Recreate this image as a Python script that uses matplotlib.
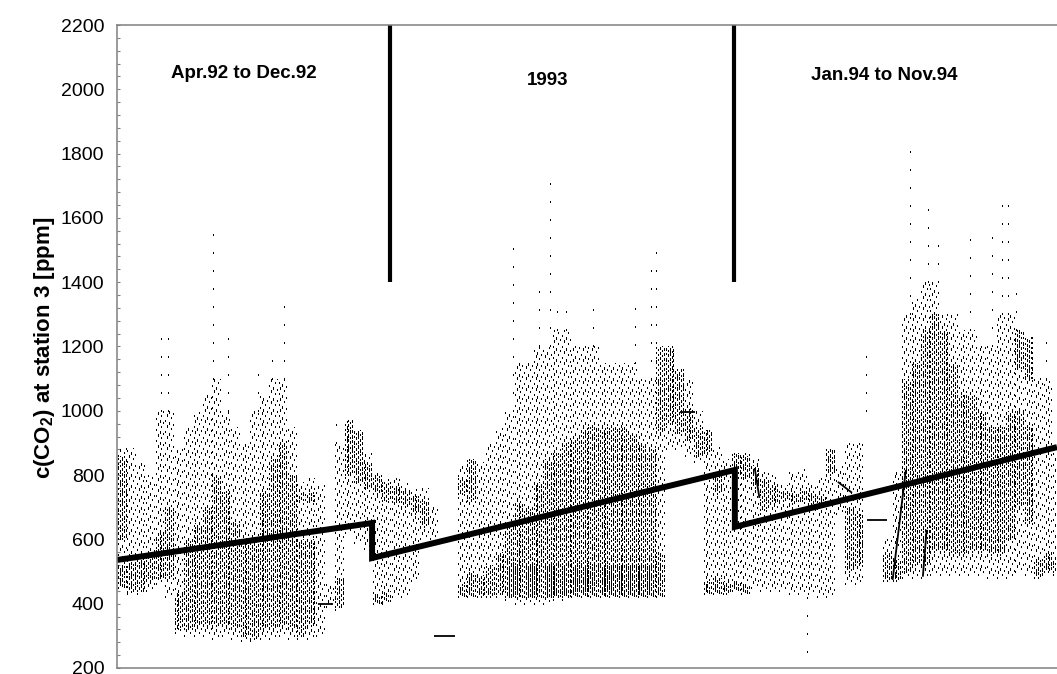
import numpy as np
import matplotlib
matplotlib.use("Agg")
import matplotlib.pyplot as plt
from matplotlib.collections import LineCollection
from matplotlib.ticker import MultipleLocator

plt.rcParams["font.family"] = ["Liberation Sans", "DejaVu Sans"]
plt.rcParams["mathtext.fontset"] = "custom"
plt.rcParams["mathtext.rm"] = "Liberation Sans"
plt.rcParams["mathtext.bf"] = "Liberation Sans:bold"
plt.rcParams["lines.scale_dashes"] = False

nan = np.nan

# ---- half-hourly CO2 readings, summarised per 10-day bin (day 0 = start of record) ----
BIN_DAYS = 10
lo_ppm = [450, 430, 430, 440, 460, 420, 310, 300, 300, 300,
          290, 300, 290, 285, 285, 290, 290, 300, 290, 290,
          290, 300, 390, 380, 620, 590, 570, 400, 400, 420,
          420, 470, 600, 600, nan, nan, 420, 420, 420, 420,
          420, 410, 400, 400, 400, 400, 410, 410, 420, 420,
          420, 420, 420, 420, 420, 420, 420, 420, 880, 880,
          860, 840, 430, 430, 430, 440, 430, 450, 440, 440,
          440, 430, 430, 430, 420, 420, 680, 460, 460, nan,
          nan, 470, 470, 480, 480, 480, 490, 490, 490, 490,
          490, 490, 480, 480, 480, 500, 490, 480, 500, 490]
hi_ppm = [885, 885, 840, 800, 1000, 1000, 880, 950, 1000, 1050,
          1100, 1000, 950, 900, 1000, 1050, 1100, 1100, 950, 780,
          790, 770, 460, 900, 960, 940, 870, 810, 790, 790,
          780, 760, 760, 700, nan, nan, 830, 850, 840, 900,
          950, 1000, 1150, 1150, 1200, 1200, 1250, 1250, 1200, 1200,
          1200, 1150, 1150, 1150, 1150, 1100, 1100, 1100, 1200, 1130,
          1100, 1000, 940, 890, 850, 870, 870, 850, 810, 800,
          770, 810, 820, 780, 790, 880, 830, 900, 900, nan,
          nan, 600, 810, 1300, 1350, 1400, 1400, 1300, 1300, 1250,
          1250, 1200, 1200, 1300, 1300, 1250, 1200, 1100, 1100, 900]
core_lo = [600, 435, 440, 470, 480, 480, 320, 320, 330, 330,
           330, 330, 320, 300, 290, 320, 320, 330, 320, 300,
           330, nan, nan, 390, 800, 780, 760, 740, 720, 715,
           700, 680, 640, nan, nan, nan, 740, 720, 420, 420,
           430, 420, 430, 420, 430, 420, 430, 430, 440, 440,
           450, 440, 430, 430, 430, 430, 430, 930, 960, 930,
           910, 860, 870, 740, 430, 800, 790, 760, 690, 710,
           720, 710, 720, 710, 700, 800, nan, 500, 520, nan,
           nan, 470, 470, 500, 520, 520, 560, 560, 550, 550,
           560, 560, 550, 550, 600, 700, 650, 480, 500, 500]
core_hi = [860, 530, 540, 560, 620, 700, 430, 600, 650, 700,
           800, 750, 650, 600, 600, 750, 850, 900, 800, 600,
           600, nan, nan, 480, 970, 940, 840, 800, 780, 770,
           750, 735, 720, nan, nan, nan, 790, 850, 490, 520,
           560, 650, 720, 700, 780, 850, 870, 900, 920, 950,
           950, 950, 950, 950, 930, 900, 880, 1200, 1200, 1130,
           1010, 950, 940, 800, 470, 870, 860, 830, 790, 770,
           750, 750, 750, 750, 740, 880, nan, 700, 680, nan,
           nan, 560, 540, 1100, 1150, 1250, 1300, 1250, 1150, 1050,
           1050, 1000, 950, 950, 1000, 1000, 950, 540, 560, 540]
band_lo = [450, nan, nan, nan, nan, nan, nan, nan, nan, nan,
           nan, nan, nan, nan, nan, nan, nan, nan, nan, 720,
           715, nan, nan, nan, nan, nan, nan, 400, 405, nan,
           nan, nan, nan, nan, nan, nan, 420, 420, nan, nan,
           nan, 420, 420, 420, 420, 420, 420, 420, 420, 420,
           420, 420, 420, 420, 420, 420, 420, 420, nan, nan,
           nan, nan, 430, 430, nan, 440, 430, nan, nan, nan,
           nan, nan, nan, nan, nan, nan, nan, nan, nan, nan,
           nan, nan, nan, nan, nan, nan, nan, nan, nan, nan,
           nan, nan, nan, nan, nan, 1130, 1100, nan, nan, nan]
band_hi = [520, nan, nan, nan, nan, nan, nan, nan, nan, nan,
           nan, nan, nan, nan, nan, nan, nan, nan, nan, 745,
           745, nan, nan, nan, nan, nan, nan, 430, 440, nan,
           nan, nan, nan, nan, nan, nan, 460, 500, nan, nan,
           nan, 520, 520, 520, 520, 520, 520, 520, 520, 520,
           520, 520, 520, 520, 520, 520, 520, 560, nan, nan,
           nan, nan, 470, 480, nan, 470, 460, nan, nan, nan,
           nan, nan, nan, nan, nan, nan, nan, nan, nan, nan,
           nan, nan, nan, nan, nan, nan, nan, nan, nan, nan,
           nan, nan, nan, nan, nan, 1250, 1230, nan, nan, nan]

# isolated peaks (single days reaching far above / below the bulk)
spike_day = [47, 54, 102, 117, 149, 164, 177, 232, 419, 447, 458, 466, 475, 504,
             548, 565, 571, 730, 793, 839, 858, 869, 903, 926, 937, 943, 952, 977, 983]
spike_lo = [1000, 1000, 1100, 1000, 1000, 1100, 1100, 900, 1000, 1200, 1200, 1250, 1250, 1200,
            1150, 1100, 1100, 250, 1000, 1300, 1400, 1400, 1250, 1200, 1300, 1300, 1250, 1100, 1100]
spike_hi = [1230, 1260, 1560, 1230, 1130, 1200, 1380, 990, 1550, 1400, 1760, 1350, 1350, 1350,
            1320, 1460, 1530, 430, 1220, 1830, 1660, 1560, 1560, 1570, 1690, 1650, 1370, 1150, 1220]

# straight segments bridging gaps in the record: (day0, ppm0, day1, ppm1)
gap_day0 = [213, 336, 596, 794, 763, 675, 821, 853]
gap_ppm0 = [398, 300, 996, 660, 779, 822, 474, 484]
gap_day1 = [229, 358, 612, 815, 778, 680, 835, 857]
gap_ppm1 = [398, 300, 996, 660, 745, 729, 816, 630]

# linear trend for each period
trend_day = [0, 270, 270, 654, 654, 995]
trend_ppm = [536, 651, 542, 816, 639, 887]

year_break_day = [289, 653]
period_labels = ["Apr.92 to Dec.92", "1993", "Jan.94 to Nov.94"]
period_label_day = [134, 456, 812]
period_label_ppm = [2035, 2012, 2028]

# ---- figure ----
W, H = 1057, 674
fig = plt.figure(figsize=(W / 100, H / 100), dpi=100)
ax = fig.add_axes([117 / W, 1 - 668 / H, 1 - 117 / W, (668 - 25) / H])
ax.set_xlim(0, 995)
ax.set_ylim(200, 2200)

# each bin is drawn as five dotted day-columns
sub_offsets = (1.0, 3.0, 5.0, 7.0, 9.0)
sparse_phase = (0.0, 4.3, 1.9, 6.1, 3.0)
dense_phase = (0.0, 1.7, 0.6, 2.3, 1.1)

def column_layer(lows, highs, on, off, phases):
    segs, styles = [], []
    for i, (a, b) in enumerate(zip(lows, highs)):
        if np.isnan(a) or np.isnan(b):
            continue
        d0 = i * BIN_DAYS
        for k, off_d in enumerate(sub_offsets):
            x = d0 + off_d
            segs.append([(x, a), (x, b)])
            styles.append((phases[k], (on, off)))
    return segs, styles

for lows, highs, on, off, ph in [
    (lo_ppm, hi_ppm, 0.75, 7.0, sparse_phase),
    (core_lo, core_hi, 0.75, 2.8, dense_phase),
    (band_lo, band_hi, 0.75, 2.4, sparse_phase),
]:
    segs, styles = column_layer(lows, highs, on, off, ph)
    ax.add_collection(LineCollection(segs, colors="black", linewidths=0.75,
                                     linestyles=styles, capstyle="butt",
                                     antialiaseds=False))

spike_segs = [[(d, a), (d, b)] for d, a, b in zip(spike_day, spike_lo, spike_hi)]
ax.add_collection(LineCollection(spike_segs, colors="black", linewidths=0.75,
                                 linestyles=[(0, (0.75, 12.0))] * len(spike_segs),
                                 capstyle="butt", antialiaseds=False))

for d0, p0, d1, p1 in zip(gap_day0, gap_ppm0, gap_day1, gap_ppm1):
    ax.plot([d0, d1], [p0, p1], color="black", lw=1.3, solid_capstyle="butt")

ax.plot(trend_day, trend_ppm, color="black", lw=4.3,
        solid_joinstyle="miter", solid_capstyle="butt")

ax.vlines(year_break_day, 1400, 2200, colors="black", lw=3.0)

for txt, d, p in zip(period_labels, period_label_day, period_label_ppm):
    ax.text(d, p, txt, ha="center", va="baseline", fontsize=13.5,
            fontweight="bold", color="black")

# axes styling
for side in ("left", "top", "bottom"):
    ax.spines[side].set_color("#808080")
    ax.spines[side].set_linewidth(1.1)
ax.spines["right"].set_visible(False)
ax.set_xticks([])
ax.yaxis.set_major_locator(MultipleLocator(200))
ax.yaxis.set_minor_locator(MultipleLocator(40))
ax.tick_params(axis="y", which="major", direction="in", length=2.5, width=0.8,
               color="#808080", labelsize=14, pad=9)
ax.tick_params(axis="y", which="minor", direction="in", length=2.0, width=0.8,
               color="#808080")
ax.set_yticks(np.arange(200, 2201, 200))

fig.text(45 / W, 1 - 348 / H, r"c(CO$_\mathbf{2}$) at station 3 [ppm]",
         rotation=90, ha="center", va="center", fontsize=16, fontweight="bold")

fig.savefig("out.png", dpi=100)
